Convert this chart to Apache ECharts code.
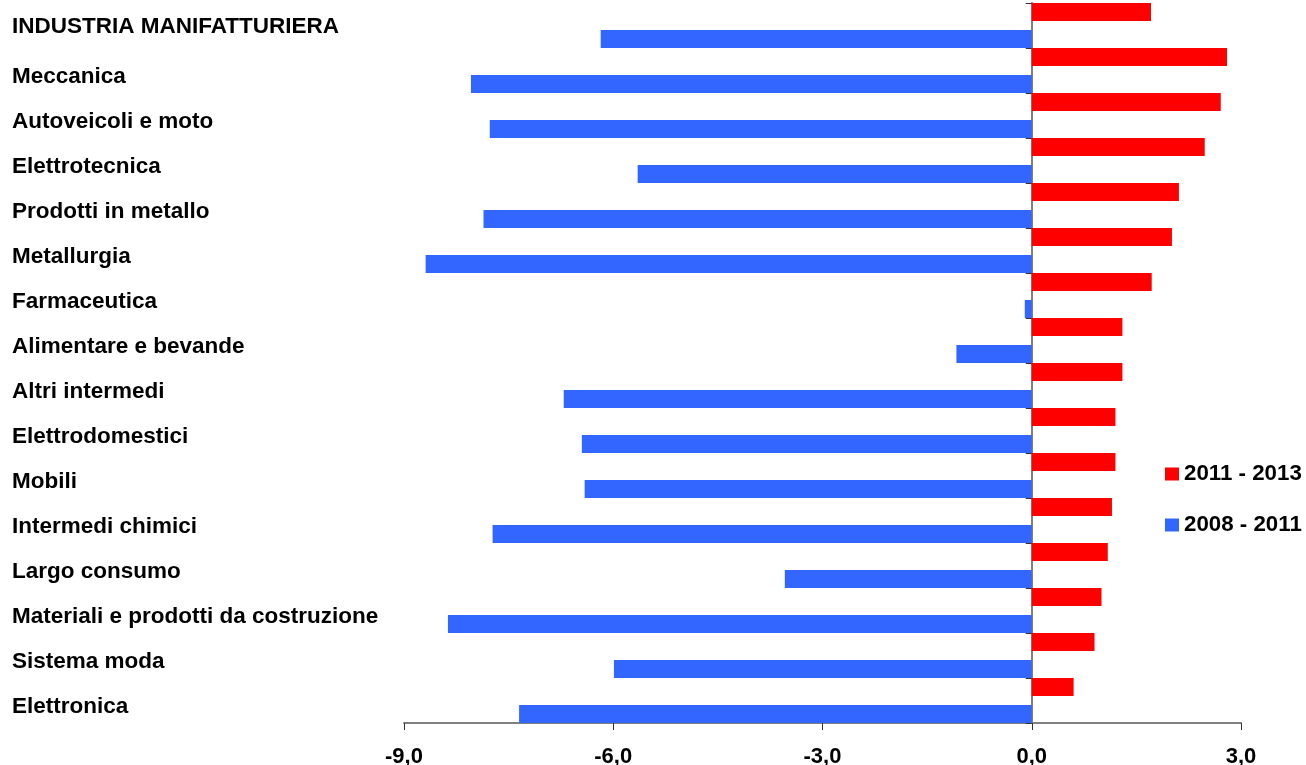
<!DOCTYPE html>
<html>
<head>
<meta charset="utf-8">
<title>Industria manifatturiera</title>
<script src="https://cdn.jsdelivr.net/npm/echarts@6/dist/echarts.min.js"></script>
<style>
  html, body { margin: 0; padding: 0; background: #ffffff; }
  #chart { width: 1306px; height: 765px; }
</style>
</head>
<body>
<div id="chart"></div>
<script>
// Sectors, top to bottom
const categories = [
  'INDUSTRIA MANIFATTURIERA',
  'Meccanica',
  'Autoveicoli e moto',
  'Elettrotecnica',
  'Prodotti in metallo',
  'Metallurgia',
  'Farmaceutica',
  'Alimentare e bevande',
  'Altri intermedi',
  'Elettrodomestici',
  'Mobili',
  'Intermedi chimici',
  'Largo consumo',
  'Materiali e prodotti da costruzione',
  'Sistema moda',
  'Elettronica'
];

const seriesNames = ['2011 - 2013', '2008 - 2011'];

// Average annual change, 2011 - 2013
const change2011_2013 = [1.71, 2.80, 2.71, 2.48, 2.11, 2.01, 1.72, 1.30, 1.30, 1.20, 1.20, 1.15, 1.09, 1.00, 0.90, 0.60];

// Average annual change, 2008 - 2011
const change2008_2011 = [-6.18, -8.04, -7.77, -5.65, -7.86, -8.69, -0.10, -1.08, -6.71, -6.45, -6.41, -7.73, -3.54, -8.37, -5.99, -7.35];

// Value axis ticks
const xTicks = { min: -9, max: 3, interval: 3 };

const FONT = "'Liberation Sans', Arial, sans-serif";
const AXIS_GREY = '#808080';

const labelText = {
  fontFamily: FONT,
  fontWeight: 'bold',
  fontSize: 22.5,
  color: '#000'
};

// Plot area plus two text-only layers for the sector names,
// sitting slightly below the bar bands.
const gridBase = { left: 404, right: 65, outerBoundsMode: 'none', containLabel: false };

const hiddenX = gridIndex => ({
  type: 'value', gridIndex, min: xTicks.min, max: xTicks.max, show: false
});

const nameAxis = (gridIndex, pick) => ({
  type: 'category',
  gridIndex,
  position: 'left',
  data: categories,
  inverse: true,
  axisLine: { show: false, onZero: false },
  axisTick: { show: false },
  splitLine: { show: false },
  axisLabel: Object.assign({}, labelText, {
    align: 'left',
    margin: 392,
    interval: 0,
    formatter: (v, i) => (pick(i) ? v : '')
  })
});

const chart = echarts.init(document.getElementById('chart'), null, { renderer: 'canvas' });

chart.setOption({
  backgroundColor: '#ffffff',
  animation: false,
  grid: [
    Object.assign({ top: 3, bottom: 42 }, gridBase),
    Object.assign({ top: 9, bottom: 36 }, gridBase),
    Object.assign({ top: 4.5, bottom: 40.5 }, gridBase)
  ],
  legend: {
    data: seriesNames,
    orient: 'vertical',
    left: 1160,
    top: 458,
    icon: 'rect',
    itemWidth: 14,
    itemHeight: 13,
    itemGap: 29,
    selectedMode: false,
    textStyle: Object.assign({}, labelText, { fontSize: 22.3 })
  },
  xAxis: [
    {
      type: 'value',
      gridIndex: 0,
      min: xTicks.min,
      max: xTicks.max,
      interval: xTicks.interval,
      axisLine: { show: true, lineStyle: { color: AXIS_GREY, width: 2 } },
      axisTick: { show: true, length: 7, lineStyle: { color: '#333', width: 1 } },
      splitLine: { show: false },
      axisLabel: Object.assign({}, labelText, {
        fontSize: 22,
        margin: 23,
        formatter: v => v.toFixed(1).replace('.', ',')
      })
    },
    hiddenX(1),
    hiddenX(2)
  ],
  yAxis: [
    {
      // vertical baseline at zero with band ticks
      type: 'category',
      gridIndex: 0,
      data: categories,
      inverse: true,
      axisLine: { show: true, onZero: true, lineStyle: { color: AXIS_GREY, width: 2 } },
      axisTick: { show: true, length: 6, lineStyle: { color: '#333', width: 1 } },
      axisLabel: { show: false }
    },
    nameAxis(1, i => i > 0),
    nameAxis(2, i => i === 0)
  ],
  series: [
    {
      name: seriesNames[0],
      type: 'bar',
      xAxisIndex: 0,
      yAxisIndex: 0,
      data: change2011_2013,
      barWidth: 18,
      barGap: '50%',
      barCategoryGap: 0,
      itemStyle: { color: '#ff0000' }
    },
    {
      name: seriesNames[1],
      type: 'bar',
      xAxisIndex: 0,
      yAxisIndex: 0,
      data: change2008_2011,
      barWidth: 18,
      barGap: '50%',
      barCategoryGap: 0,
      itemStyle: { color: '#3366ff' }
    }
  ]
});
</script>
</body>
</html>
